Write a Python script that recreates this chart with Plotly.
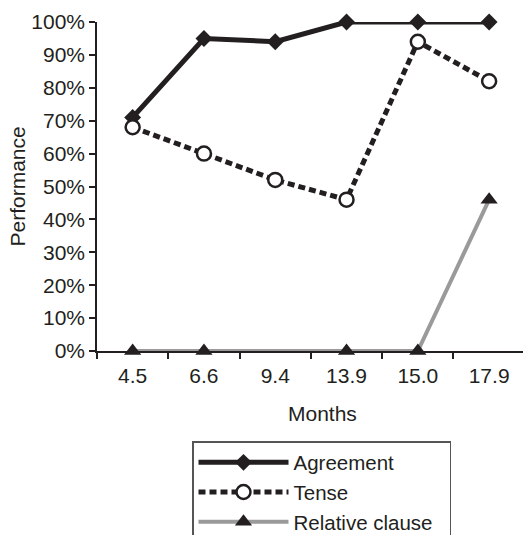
import plotly.graph_objects as go

months = ["4.5", "6.6", "9.4", "13.9", "15.0", "17.9"]
agreement = [0.71, 0.95, 0.94, 1.00, 1.00, 1.00]
tense = [0.68, 0.60, 0.52, 0.46, 0.94, 0.82]
relative_clause = [0.0, 0.0, None, 0.0, 0.0, 0.46]
series_names = ["Agreement", "Tense", "Relative clause"]
y_ticks = [i / 10 for i in range(11)]

INK = "#231f20"
FONT = "Liberation Sans, Arial, sans-serif"
FS = 21
PAD = "\u00a0\u00a0"

fig = go.Figure()
fig.add_trace(go.Scatter(
    x=months, y=agreement, name=series_names[0] + PAD, mode="lines+markers",
    line=dict(color=INK, width=5),
    marker=dict(symbol="diamond", size=13, color=INK),
    cliponaxis=False,
))
fig.add_trace(go.Scatter(
    x=months, y=tense, name=series_names[1] + PAD, mode="lines+markers",
    line=dict(color=INK, width=5, dash="7px,4px"),
    marker=dict(symbol="circle", size=14, color="white",
                line=dict(color=INK, width=2.5)),
    cliponaxis=False,
))
fig.add_trace(go.Scatter(
    x=months, y=relative_clause, name=series_names[2] + PAD, mode="lines+markers",
    connectgaps=True,
    line=dict(color="#9a9a9a", width=4),
    marker=dict(symbol="triangle-up", size=15, color=INK),
    cliponaxis=False,
))

W, H = 523, 535
L, R, T, B = 97, 0, 22, 184
pw, ph = W - L - R, H - T - B

fig.update_layout(
    width=W, height=H,
    margin=dict(l=L, r=R, t=T, b=B, pad=0, autoexpand=False),
    paper_bgcolor="white", plot_bgcolor="white",
    font=dict(family=FONT, size=FS, color=INK),
    showlegend=True,
    legend=dict(
        x=(192 - L) / pw, y=(T + ph - 441) / ph,
        xanchor="left", yanchor="top",
        bordercolor="#555555", borderwidth=1.5,
        bgcolor="white",
        font=dict(family=FONT, size=20.5, color=INK),
        itemwidth=90,
        tracegroupgap=0,
    ),
    xaxis=dict(
        type="category", range=[-0.5, 5.475],
        showline=True, linecolor=INK, linewidth=1.5,
        ticks="outside", tickson="boundaries", ticklen=6, tickcolor=INK, tickwidth=1.5,
        showgrid=False, zeroline=False,
        tickfont=dict(family=FONT, size=FS, color=INK),
        ticklabelstandoff=5,
    ),
    yaxis=dict(
        range=[0, 1], tickvals=y_ticks, tickformat=".0%",
        showline=True, linecolor=INK, linewidth=1.5,
        ticks="outside", ticklen=6, tickcolor=INK, tickwidth=1.5,
        showgrid=False, zeroline=False,
        tickfont=dict(family=FONT, size=FS, color=INK),
    ),
    annotations=[
        dict(text="Months", xref="paper", yref="paper",
             x=(322 - L) / pw, y=(T + ph - 413) / ph,
             xanchor="center", yanchor="middle", showarrow=False,
             font=dict(family=FONT, size=FS, color=INK)),
        dict(text="Performance", xref="paper", yref="paper",
             x=(17 - L) / pw, y=0.5, textangle=-90,
             xanchor="center", yanchor="middle", showarrow=False,
             font=dict(family=FONT, size=FS, color=INK)),
    ],
)

fig.write_html("out.html")
